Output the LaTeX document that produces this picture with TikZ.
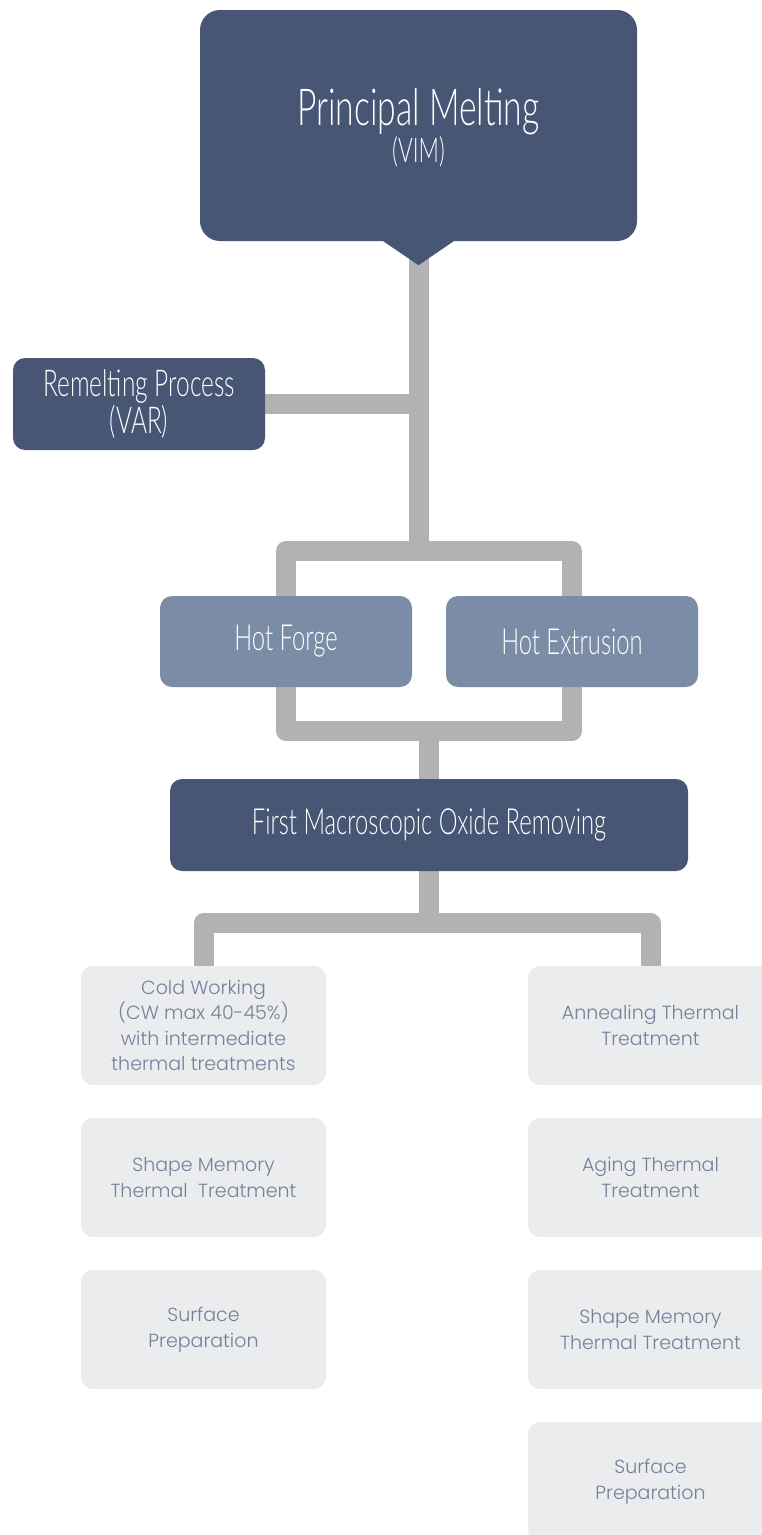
\documentclass[tikz,border=0pt]{standalone}
\usepackage{fontspec}
\newfontfamily\oswald[FakeStretch=0.66]{Lato Light}
\newfontfamily\worksans{Poppins Light}
\usetikzlibrary{backgrounds}
\definecolor{darkbox}{HTML}{475674}
\definecolor{midbox}{HTML}{7B8CA6}
\definecolor{lightbox}{HTML}{EBECEE}
\definecolor{lighttext}{HTML}{76809A}
\definecolor{conncol}{HTML}{B2B2B2}
\tikzset{
  darknode/.style={fill=darkbox, text=white, rounded corners=12pt, inner sep=0pt, align=center,
    font=\oswald\fontsize{36}{37}\selectfont},
  midnode/.style={darknode, fill=midbox, minimum width=252pt, minimum height=91pt},
  lightnode/.style={fill=lightbox, text=lighttext, rounded corners=12pt, inner sep=0pt, align=center,
    minimum width=245pt, minimum height=119pt, font=\worksans\fontsize{19}{25.5}\selectfont},
  conn/.style={draw=conncol, line width=20pt, line join=round}
}
\begin{document}
\begin{tikzpicture}[x=1pt,y=-1pt]
\useasboundingbox (0,0) rectangle (762,1535);
\clip (0,0) rectangle (762,1535);
% main boxes
\node[darknode, rounded corners=20pt, minimum width=437pt, minimum height=231pt, text depth=0pt,
  font=\oswald\fontsize{51}{37}\selectfont] (pm) at (418.5,125.5)
  {Principal Melting\\{\fontsize{34}{37}\selectfont (VIM)}};
\fill[darkbox] (pm.south) ++(-36,-0.5) -- ++(36,24.5) -- ++(36,-24.5) -- cycle;
\node[darknode, minimum width=252pt, minimum height=92pt,
  font=\oswald\fontsize{37}{37}\selectfont] (rem) at (139,404)
  {Remelting Process\\(VAR)};
\node[midnode] (hf) at (286,641.5) {Hot Forge};
\node[midnode] (he) at (572,641.5) {Hot Extrusion};
\node[darknode, minimum width=518pt, minimum height=92pt] (first) at (429,825)
  {First Macroscopic Oxide Removing};
% light boxes
\node[lightnode] (cw) at (203.5,1025.5) {Cold Working\\(CW max 40-45\%)\\with intermediate\\thermal treatments};
\node[lightnode] (sml) at (203.5,1177.5) {Shape Memory\\Thermal\ \ Treatment};
\node[lightnode] (spl) at (203.5,1329.5) {Surface\\Preparation};
\node[lightnode] (an) at (650.5,1025.5) {Annealing Thermal\\Treatment};
\node[lightnode] (ag) at (650.5,1177.5) {Aging Thermal\\Treatment};
\node[lightnode] (smr) at (650.5,1329.5) {Shape Memory\\Thermal Treatment};
\node[lightnode] (spr) at (650.5,1481.5) {Surface\\Preparation};
% junction coordinates
\coordinate (tb) at (418.5,551);
\coordinate (bb) at (429,731);
\coordinate (cb) at (429,923);
\begin{pgfonlayer}{background}
\draw[conn] (pm.south) -- (tb);
\draw[conn] (rem.east) -- (rem.east -| pm.south);
\draw[conn] (hf.north) |- (tb) -| (he.north);
\draw[conn] (hf.south) |- (bb) -| (he.south);
\draw[conn] (bb) -- (first.north);
\draw[conn] (first.south) -- (cb);
\draw[conn] (cw.north) |- (cb) -| (an.north);
\end{pgfonlayer}
\end{tikzpicture}
\end{document}
